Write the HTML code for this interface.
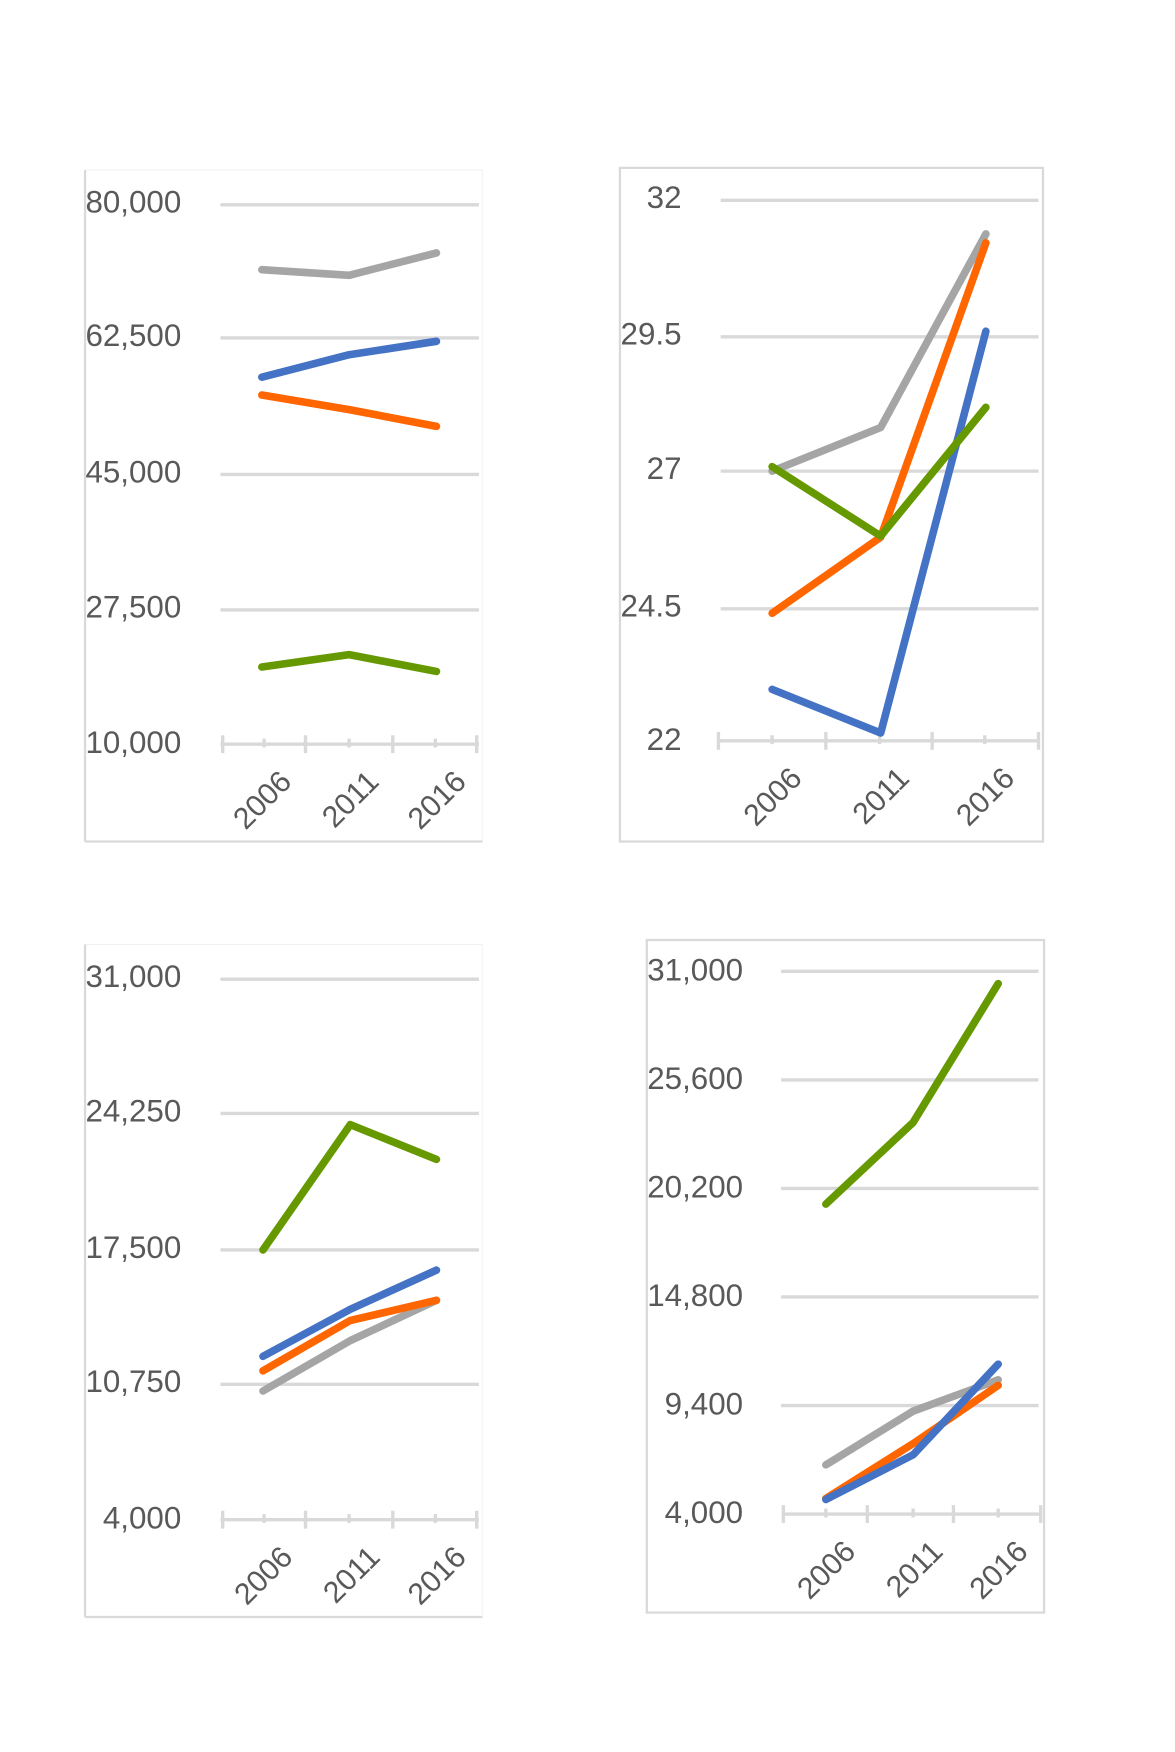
<!DOCTYPE html>
<html><head><meta charset="utf-8"><style>html,body{margin:0;padding:0;background:#fff}svg{display:block}</style></head><body>
<svg width="1175" height="1752" viewBox="0 0 1050 1565.6" xmlns="http://www.w3.org/2000/svg" font-family="'Liberation Sans', sans-serif" font-size="28" fill="#595959">
<g stroke="#d9d9d9" fill="none" stroke-width="2">
<rect x="76" y="152" width="355" height="600" stroke="#f2f2f2" stroke-width="1"/>
<line x1="76" y1="152" x2="76" y2="752"/><line x1="76" y1="752" x2="431" y2="752"/>
<g stroke-width="3"><line x1="197" y1="183" x2="428" y2="183"/><line x1="197" y1="302" x2="428" y2="302"/><line x1="197" y1="424" x2="428" y2="424"/><line x1="197" y1="545" x2="428" y2="545"/><line x1="197" y1="665" x2="428" y2="665"/></g>
<path d="M199 657v16M236 660v8M273 657v16M312 660v8M351 657v16M389 660v8M426 657v16" stroke-width="3"/>
<rect x="554" y="150" width="378" height="602"/>
<g stroke-width="3"><line x1="644" y1="179" x2="928" y2="179"/><line x1="644" y1="301" x2="928" y2="301"/><line x1="644" y1="421" x2="928" y2="421"/><line x1="644" y1="544" x2="928" y2="544"/><line x1="642" y1="662" x2="928" y2="662"/></g>
<path d="M642 654v16M690 657v8M738 654v16M786 657v8M833 654v16M880 657v8M928 654v16" stroke-width="3"/>
<rect x="76" y="844" width="355" height="601" stroke="#f2f2f2" stroke-width="1"/>
<line x1="76" y1="844" x2="76" y2="1445"/><line x1="76" y1="1445" x2="431" y2="1445"/>
<g stroke-width="3"><line x1="197" y1="875" x2="428" y2="875"/><line x1="197" y1="995" x2="428" y2="995"/><line x1="197" y1="1117" x2="428" y2="1117"/><line x1="197" y1="1237" x2="428" y2="1237"/><line x1="197" y1="1358" x2="428" y2="1358"/></g>
<path d="M199 1350v16M236 1353v8M273 1350v16M312 1353v8M351 1350v16M389 1353v8M426 1350v16" stroke-width="3"/>
<rect x="578" y="840" width="355" height="601"/>
<g stroke-width="3"><line x1="698" y1="868" x2="928" y2="868"/><line x1="698" y1="965" x2="928" y2="965"/><line x1="698" y1="1062" x2="928" y2="1062"/><line x1="698" y1="1159" x2="928" y2="1159"/><line x1="698" y1="1256" x2="928" y2="1256"/><line x1="700" y1="1353" x2="930" y2="1353"/></g>
<path d="M700 1345v16M738 1348v8M775 1345v16M816 1348v8M852 1345v16M892 1348v8M930 1345v16" stroke-width="3"/>
</g>
<g fill="none" stroke-width="6.8" stroke-linecap="round" stroke-linejoin="round">
<polyline points="234,241 312,246 390,226" stroke="#a5a5a5"/>
<polyline points="234,337 312,317 390,305" stroke="#4472c4"/>
<polyline points="234,353 312,366 390,381" stroke="#ff6600"/>
<polyline points="234,596 312,585 390,600" stroke="#669900"/>

<polyline points="690,421 787,382 881,209" stroke="#a5a5a5"/>
<polyline points="690,548 787,480 881,217" stroke="#ff6600"/>
<polyline points="690,616 787,655 881,296" stroke="#4472c4"/>
<polyline points="690,417 787,479 881,364" stroke="#669900"/>

<polyline points="235,1117 313,1005 390,1036" stroke="#669900"/>
<polyline points="235,1243 313,1198 390,1162" stroke="#a5a5a5"/>
<polyline points="235,1225 313,1180 390,1162" stroke="#ff6600"/>
<polyline points="235,1212 313,1170 390,1135" stroke="#4472c4"/>

<polyline points="738,1076 816,1003 892,879" stroke="#669900"/>
<polyline points="738,1309 816,1261 892,1233" stroke="#a5a5a5"/>
<polyline points="738,1339 816,1290 892,1238" stroke="#ff6600"/>
<polyline points="738,1340 816,1300 892,1219" stroke="#4472c4"/>
</g>
<g text-anchor="end">
<text x="162" y="190">80,000</text><text x="162" y="309">62,500</text><text x="162" y="431">45,000</text><text x="162" y="552">27,500</text><text x="162" y="673">10,000</text>
<text x="609" y="186">32</text><text x="609" y="308">29.5</text><text x="609" y="428">27</text><text x="609" y="551">24.5</text><text x="609" y="670">22</text>
<text x="162" y="882">31,000</text><text x="162" y="1002">24,250</text><text x="162" y="1124">17,500</text><text x="162" y="1244">10,750</text><text x="162" y="1366">4,000</text>
<text x="664" y="876">31,000</text><text x="664" y="973">25,600</text><text x="664" y="1070">20,200</text><text x="664" y="1167">14,800</text><text x="664" y="1264">9,400</text><text x="664" y="1361">4,000</text>
</g>
<g text-anchor="end" font-size="27">
<text transform="translate(262,700) rotate(-45)">2006</text><text transform="translate(340,700) rotate(-45)">2011</text><text transform="translate(418,700) rotate(-45)">2016</text>
<text transform="translate(718,697) rotate(-45)">2006</text><text transform="translate(814,697) rotate(-45)">2011</text><text transform="translate(908,697) rotate(-45)">2016</text>
<text transform="translate(263,1393) rotate(-45)">2006</text><text transform="translate(341,1393) rotate(-45)">2011</text><text transform="translate(418,1393) rotate(-45)">2016</text>
<text transform="translate(766,1388) rotate(-45)">2006</text><text transform="translate(844,1388) rotate(-45)">2011</text><text transform="translate(920,1388) rotate(-45)">2016</text>
</g>
</svg>
</body></html>
